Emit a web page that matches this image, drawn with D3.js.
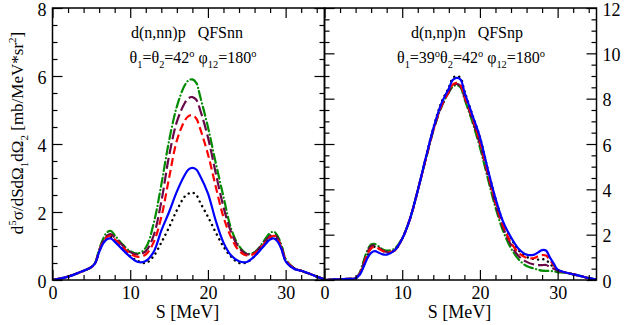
<!DOCTYPE html>
<html>
<head>
<meta charset="utf-8">
<script src="https://cdn.jsdelivr.net/npm/d3@7"></script>
<style>
  body { margin: 0; background: #fff; }
  svg text { font-family: "Liberation Serif", "Times New Roman", "DejaVu Serif", serif; fill: #000; white-space: pre; }
</style>
</head>
<body>
<svg id="chart" width="624" height="325"></svg>
<script>
// energy grid (MeV) and cross sections, left panel: d(n,nn)p QFSnn
const leftS = [0,1,2,3,4,5,5.5,6,6.5,7,7.5,8,9,10,11,12,13,14,15,16,17,17.5,18,18.5,19,20,21,22,23,24,25,26,27,27.5,28,28.5,29,29.5,30,31,32,33,34,35];
const leftDotted = [0,0.04,0.1,0.18,0.27,0.38, 0.5,0.84,1.1,1.25,1.27,1.17, 0.92,0.7,0.56,0.5,0.7,1.1,1.55,2.05,2.45, 2.54,2.57,2.5,2.28, 1.86,1.4,0.98,0.68,0.5,0.52,0.7,0.98, 1.12,1.22,1.25,1.14,0.9,0.56, 0.34,0.27,0.19,0.1,0.02];
const leftSolid = [0,0.04,0.1,0.18,0.27,0.38, 0.5,0.82,1.07,1.2,1.22,1.13, 0.9,0.68,0.53,0.56,0.82,1.45,2.0,2.6,3.08, 3.25,3.3,3.25,3.06, 2.55,1.75,1.1,0.72,0.55,0.53,0.7,0.95, 1.08,1.19,1.22,1.12,0.88,0.55, 0.34,0.27,0.19,0.1,0.02];
const leftDashed = [0,0.04,0.1,0.18,0.27,0.38, 0.5,0.84,1.1,1.26,1.3,1.2, 0.98,0.77,0.68,0.75,1.1,1.85,3.0,4.1,4.68, 4.82,4.85,4.75,4.45, 3.7,2.75,1.85,1.25,0.86,0.72,0.78,1.0, 1.13,1.25,1.3,1.18,0.92,0.58, 0.35,0.27,0.19,0.1,0.02];
const leftLongDash = [0,0.04,0.1,0.18,0.27,0.38, 0.5,0.86,1.14,1.3,1.35,1.25, 1.02,0.82,0.75,0.85,1.3,2.3,3.65,4.65,5.2, 5.35,5.38,5.3,5.0, 4.2,3.15,2.15,1.4,0.95,0.76,0.8,1.05, 1.18,1.3,1.35,1.22,0.95,0.6, 0.36,0.27,0.19,0.1,0.02];
const leftDashDot = [0,0.04,0.1,0.18,0.27,0.38, 0.52,0.9,1.2,1.4,1.44,1.32, 1.05,0.85,0.78,0.95,1.65,2.8,4.1,5.1,5.72, 5.87,5.9,5.8,5.4, 4.5,3.45,2.45,1.5,1.0,0.78,0.82,1.08, 1.25,1.38,1.42,1.28,1.0,0.62, 0.36,0.27,0.19,0.1,0.02];

// right panel: d(n,np)n QFSnp
const rightS = [0,1,2,3,4,4.5,5,5.5,6,6.5,7,7.5,8,9,10,11,12,13,14,15,16,16.5,17,17.5,18,19,20,21,22,23,24,25,26,27,27.5,28,28.5,29,29.5,30,31,32,33,34,35];
const rightDotted = [0,0.02,0.03,0.05,0.08, 0.24,0.62,1.05,1.4,1.47,1.4,1.3,1.22, 1.3,1.82,2.7,3.95,5.35,6.7,7.8,8.5, 8.9,9.0,8.92,8.35, 7.32,6.3,4.9,3.6,2.55,1.85,1.3,1.02,0.92, 0.9,0.92,0.88,0.72,0.55,0.42, 0.33,0.25,0.17,0.08,0.02];
const rightSolid = [0,0.02,0.03,0.05,0.08, 0.22,0.55,0.95,1.2,1.27,1.2,1.13,1.12, 1.3,1.82,2.7,3.95,5.35,6.68,7.75,8.45, 8.82,8.92,8.85,8.3, 7.3,6.3,4.9,3.6,2.55,1.88,1.37,1.12,1.12, 1.22,1.32,1.3,1.0,0.72,0.46, 0.33,0.25,0.17,0.08,0.02];
const rightDashed = [0,0.02,0.03,0.05,0.08, 0.25,0.65,1.1,1.4,1.45,1.38,1.28,1.22, 1.3,1.82,2.7,3.95,5.3,6.62,7.65,8.32, 8.62,8.7,8.6,8.12, 7.2,6.1,4.75,3.45,2.4,1.65,1.2,0.98,0.97, 1.05,1.1,1.08,0.88,0.65,0.45, 0.33,0.25,0.17,0.08,0.02];
const rightLongDash = [0,0.02,0.03,0.05,0.08, 0.27,0.7,1.2,1.5,1.52,1.42,1.3,1.24, 1.3,1.82,2.7,3.95,5.3,6.6,7.62,8.3, 8.58,8.65,8.55,8.08, 7.1,6.0,4.65,3.35,2.3,1.55,1.05,0.8,0.68, 0.66,0.66,0.66,0.58,0.5,0.42, 0.33,0.25,0.17,0.08,0.02];
const rightDashDot = [0,0.02,0.03,0.05,0.08, 0.3,0.8,1.3,1.57,1.58,1.48,1.35,1.3, 1.38,1.85,2.7,3.95,5.28,6.58,7.6,8.28, 8.52,8.6,8.5,8.0, 7.0,5.85,4.5,3.2,2.15,1.4,0.9,0.62,0.5, 0.45,0.41,0.4,0.4,0.38,0.35, 0.32,0.25,0.17,0.08,0.02];

const xTicks = [0,10,20,30];
const leftYTicks = [0,2,4,6,8];
const rightYTicks = [0,2,4,6,8,10,12];

const svg = d3.select('#chart');
const plotTop = 8, plotBottom = 280;
const serif = '"Liberation Serif", "Times New Roman", serif';

const styles = [
    { key: 'dotted',   color: '#000000', dash: '0.1,5.2', width: 2.4, cap: 'round' },
    { key: 'dashDot',  color: '#008b00', dash: '9,3.5,0.1,3.5', width: 2.2, cap: 'round' },
    { key: 'longDash', color: '#670748', dash: '11,4', width: 2.2, cap: 'butt' },
    { key: 'dashed',   color: '#ff0000', dash: '8,4', width: 2.2, cap: 'butt' },
    { key: 'solid',    color: '#0000ff', dash: null, width: 2.2, cap: 'butt' }
];

const panels = [
    {
        id: 'left', x0: 52.5, x1: 324.5, yMax: 8, yTicks: leftYTicks, labelSide: 'left',
        s: leftS,
        series: { dotted: leftDotted, solid: leftSolid, dashed: leftDashed, longDash: leftLongDash, dashDot: leftDashDot }
    },
    {
        id: 'right', x0: 324.5, x1: 596.5, yMax: 12, yTicks: rightYTicks, labelSide: 'right',
        s: rightS,
        series: { dotted: rightDotted, solid: rightSolid, dashed: rightDashed, longDash: rightLongDash, dashDot: rightDashDot }
    }
];

panels.forEach(p => {
    const x = d3.scaleLinear().domain([0, 35]).range([p.x0, p.x1]);
    const y = d3.scaleLinear().domain([0, p.yMax]).range([plotBottom, plotTop]);

    svg.append('clipPath').attr('id', 'clip-' + p.id)
        .append('rect')
        .attr('x', p.x0).attr('y', plotTop)
        .attr('width', p.x1 - p.x0).attr('height', plotBottom - plotTop);

    const g = svg.append('g').attr('clip-path', 'url(#clip-' + p.id + ')');
    const line = d3.line()
        .x(d => x(d[0]))
        .y(d => y(d[1]))
        .curve(d3.curveCatmullRom.alpha(0.5));

    styles.forEach(st => {
        const vals = p.series[st.key];
        g.append('path')
            .datum(p.s.map((s, i) => [s, vals[i]]))
            .attr('fill', 'none')
            .attr('stroke', st.color)
            .attr('stroke-width', st.width)
            .attr('stroke-linecap', st.cap)
            .attr('stroke-dasharray', st.dash)
            .attr('d', line);
    });

    // ticks, all pointing inward
    const minorX = d3.range(0, 35.01, 2).filter(v => v % 10 !== 0);
    const minorY = d3.range(0, p.yMax + 0.01, 0.5).filter(v => v % 2 !== 0);

    const addAxis = (axisFn, scale, transform, major, minor, labels, vertical) => {
        const a = svg.append('g').attr('transform', transform).attr('font-family', serif);
        a.call(axisFn(scale).tickValues(major).tickSize(-10).tickPadding(6)
            .tickFormat(labels ? d3.format('d') : ''));
        a.append('g').call(axisFn(scale).tickValues(minor).tickSize(-5).tickFormat(''));
        a.selectAll('.domain').remove();
        a.selectAll('line').attr('stroke', '#000').attr('stroke-width', 1.2);
        a.selectAll('text').attr('font-size', 18).attr('font-family', serif).attr('fill', '#000');
        if (vertical) a.selectAll('text').attr('dy', '0.4em');
        return a;
    };

    addAxis(d3.axisBottom, x, `translate(0,${plotBottom})`, xTicks, minorX, true, false);
    addAxis(d3.axisTop, x, `translate(0,${plotTop})`, xTicks, minorX, false, false);
    addAxis(d3.axisLeft, y, `translate(${p.x0},0)`, p.yTicks, minorY, p.labelSide === 'left', true);
    addAxis(d3.axisRight, y, `translate(${p.x1},0)`, p.yTicks, minorY, p.labelSide === 'right', true);

    svg.append('rect')
        .attr('x', p.x0).attr('y', plotTop)
        .attr('width', p.x1 - p.x0).attr('height', plotBottom - plotTop)
        .attr('fill', 'none').attr('stroke', '#000').attr('stroke-width', 1.5);

    svg.append('text')
        .attr('x', (p.x0 + p.x1) / 2 - 1).attr('y', 318)
        .attr('text-anchor', 'middle').attr('font-size', 18)
        .text('S [MeV]');
});

// rich text helper: segments of [text, 'sub'|'sup'|'']
function richText(parent, x, y, segs, size, anchor, rotate) {
    const t = parent.append('text')
        .attr('x', x).attr('y', y)
        .attr('font-size', size)
        .attr('text-anchor', anchor);
    if (rotate) t.attr('transform', `rotate(-90,${x},${y})`);
    let shift = 0;
    segs.forEach(([txt, mode]) => {
        const target = mode === 'sub' ? size * 0.3 : mode === 'sup' ? -size * 0.4 : 0;
        t.append('tspan')
            .attr('dy', target - shift)
            .attr('font-size', mode ? size * 0.65 : size)
            .text(txt);
        shift = target;
    });
    return t;
}

richText(svg, 187, 38, [['d(n,nn)p   QFSnn', '']], 16, 'middle');
richText(svg, 193, 63, [
    ['\u03b8', ''], ['1', 'sub'], ['=\u03b8', ''], ['2', 'sub'], ['=42', ''], ['o', 'sup'],
    [' \u03c6', ''], ['12', 'sub'], ['=180', ''], ['o', 'sup']
], 16, 'middle');

richText(svg, 467, 38, [['d(n,np)n   QFSnp', '']], 16, 'middle');
richText(svg, 471, 63, [
    ['\u03b8', ''], ['1', 'sub'], ['=39', ''], ['o', 'sup'], ['\u03b8', ''], ['2', 'sub'], ['=42', ''], ['o', 'sup'],
    [' \u03c6', ''], ['12', 'sub'], ['=180', ''], ['o', 'sup']
], 16, 'middle');

richText(svg, 23, 133, [
    ['d', ''], ['5', 'sup'], ['\u03c3/dSd\u03a9', ''], ['1', 'sub'], ['d\u03a9', ''], ['2', 'sub'],
    [' [mb/MeV*sr', ''], ['2', 'sup'], [']', '']
], 17, 'middle', true);
</script>
</body>
</html>
